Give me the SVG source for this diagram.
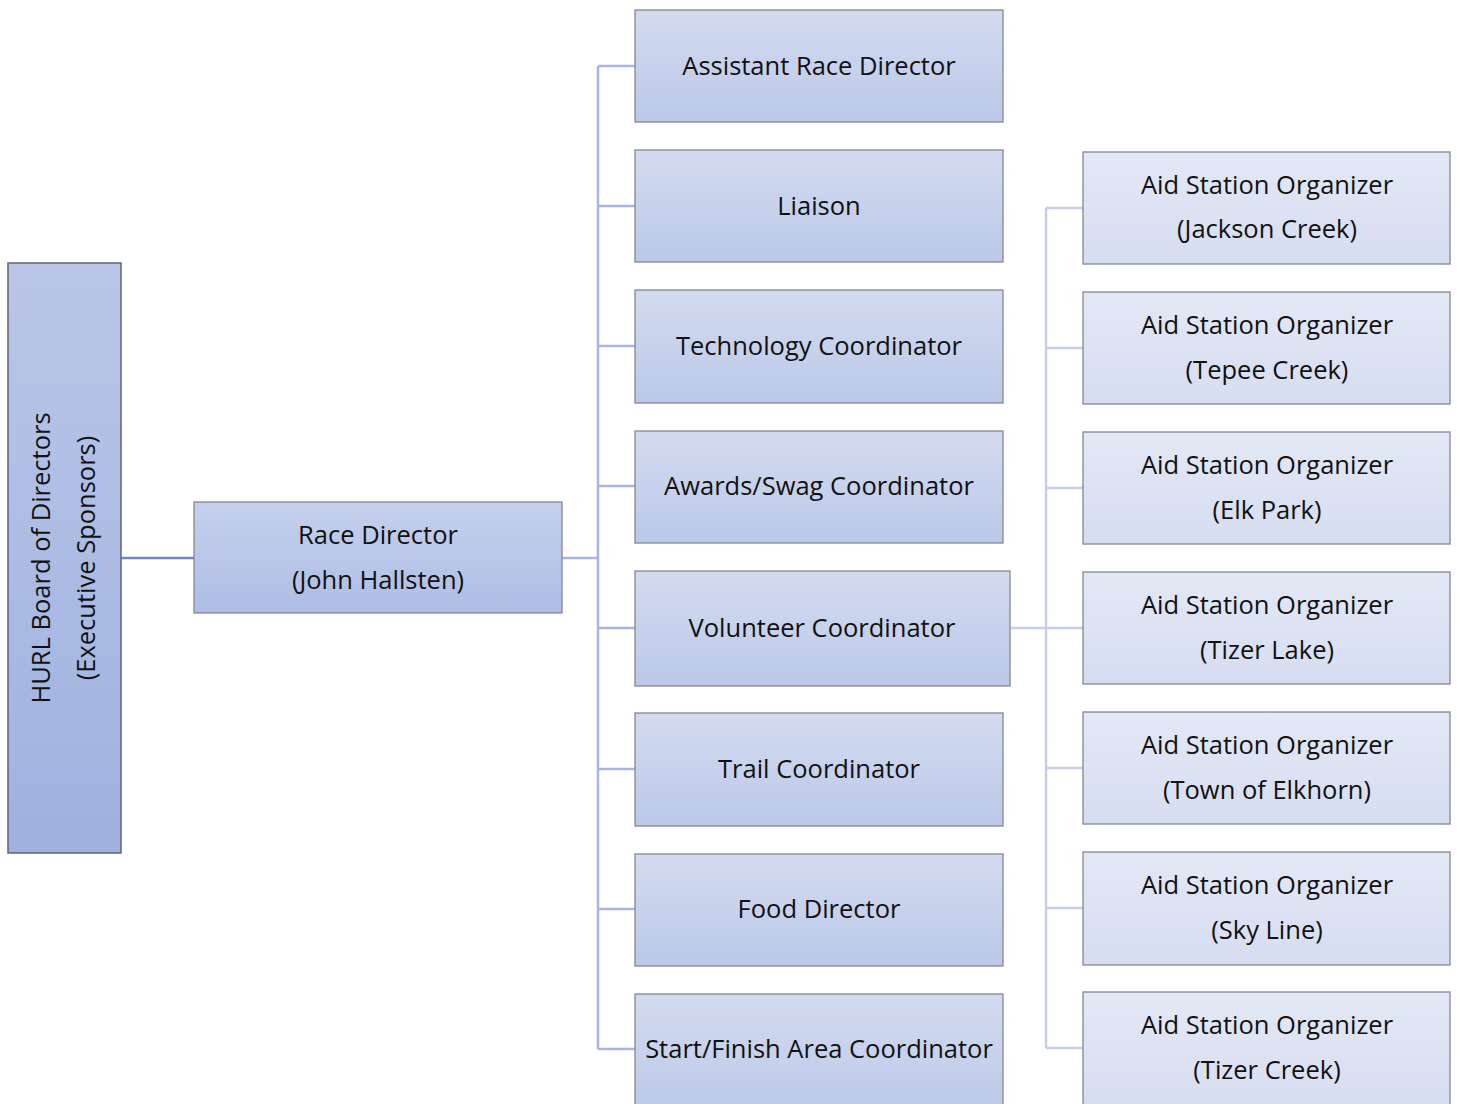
<svg xmlns="http://www.w3.org/2000/svg" width="1457" height="1104" viewBox="0 0 1457 1104">
<defs>
<linearGradient id="gBoard" x1="0" y1="0" x2="0" y2="1"><stop offset="0" stop-color="#b9c6e7"/><stop offset="1" stop-color="#9eb1df"/></linearGradient>
<linearGradient id="gMid" x1="0" y1="0" x2="0" y2="1"><stop offset="0" stop-color="#d3dbef"/><stop offset="1" stop-color="#bcc8e9"/></linearGradient>
<linearGradient id="gRD" x1="0" y1="0" x2="0" y2="1"><stop offset="0" stop-color="#c5d0ec"/><stop offset="1" stop-color="#aebde5"/></linearGradient>
<linearGradient id="gAid" x1="0" y1="0" x2="0" y2="1"><stop offset="0" stop-color="#e3e8f5"/><stop offset="1" stop-color="#d6ddf0"/></linearGradient>
</defs>
<style>
text{font-family:"Open Sans","Liberation Sans",sans-serif;font-size:25.5px;fill:#111;text-anchor:middle}
.box{stroke:#85888f;stroke-width:1.3}
.board{stroke:#5f6575;stroke-width:1.5}
.c1{stroke:#7285c6;stroke-width:2.5;fill:none}
.c2{stroke:#a9b5de;stroke-width:2.5;fill:none}
.c3{stroke:#c6ceeb;stroke-width:2.5;fill:none}
</style>
<g id="connectors">
<path class="c1" d="M121 558H194"/>
<path class="c2" d="M562 558H598M598 66V1049M598 66H635M598 206H635M598 346H635M598 486H635M598 628H635M598 769H635M598 909H635M598 1049H635"/>
<path class="c3" d="M1010 628H1046M1046 208V1048M1046 208H1083M1046 348H1083M1046 488H1083M1046 628H1083M1046 768H1083M1046 908H1083M1046 1048H1083"/>
</g>
<g id="board"><rect class="board" x="8" y="263" width="113" height="590" fill="url(#gBoard)"/>
<g transform="translate(64,558) rotate(-90)"><text x="0" y="-14">HURL Board of Directors</text><text x="0" y="31">(Executive Sponsors)</text></g></g>
<g id="race-director"><rect class="box" x="194" y="502" width="368" height="111" fill="url(#gRD)"/><text x="378" y="544">Race Director</text><text x="378" y="589">(John Hallsten)</text></g>
<g id="assistant"><rect class="box" x="635" y="10" width="368" height="112" fill="url(#gMid)"/><text x="819" y="75">Assistant Race Director</text></g>
<g id="liaison"><rect class="box" x="635" y="150" width="368" height="112" fill="url(#gMid)"/><text x="819" y="215">Liaison</text></g>
<g id="technology"><rect class="box" x="635" y="290" width="368" height="113" fill="url(#gMid)"/><text x="819" y="355">Technology Coordinator</text></g>
<g id="awards"><rect class="box" x="635" y="431" width="368" height="112" fill="url(#gMid)"/><text x="819" y="495">Awards/Swag Coordinator</text></g>
<g id="volunteer"><rect class="box" x="635" y="571" width="375" height="115" fill="url(#gMid)"/><text x="822" y="637">Volunteer Coordinator</text></g>
<g id="trail"><rect class="box" x="635" y="713" width="368" height="113" fill="url(#gMid)"/><text x="819" y="778">Trail Coordinator</text></g>
<g id="food"><rect class="box" x="635" y="854" width="368" height="112" fill="url(#gMid)"/><text x="819" y="918">Food Director</text></g>
<g id="startfinish"><rect class="box" x="635" y="994" width="368" height="120" fill="url(#gMid)"/><text x="819" y="1058">Start/Finish Area Coordinator</text></g>
<g id="aid-jackson"><rect class="box" x="1083" y="152" width="367" height="112" fill="url(#gAid)"/><text x="1267" y="194">Aid Station Organizer</text><text x="1267" y="238">(Jackson Creek)</text></g>
<g id="aid-tepee"><rect class="box" x="1083" y="292" width="367" height="112" fill="url(#gAid)"/><text x="1267" y="334">Aid Station Organizer</text><text x="1267" y="379">(Tepee Creek)</text></g>
<g id="aid-elk"><rect class="box" x="1083" y="432" width="367" height="112" fill="url(#gAid)"/><text x="1267" y="474">Aid Station Organizer</text><text x="1267" y="519">(Elk Park)</text></g>
<g id="aid-tizerlake"><rect class="box" x="1083" y="572" width="367" height="112" fill="url(#gAid)"/><text x="1267" y="614">Aid Station Organizer</text><text x="1267" y="659">(Tizer Lake)</text></g>
<g id="aid-elkhorn"><rect class="box" x="1083" y="712" width="367" height="112" fill="url(#gAid)"/><text x="1267" y="754">Aid Station Organizer</text><text x="1267" y="799">(Town of Elkhorn)</text></g>
<g id="aid-skyline"><rect class="box" x="1083" y="852" width="367" height="113" fill="url(#gAid)"/><text x="1267" y="894">Aid Station Organizer</text><text x="1267" y="939">(Sky Line)</text></g>
<g id="aid-tizercreek"><rect class="box" x="1083" y="992" width="367" height="122" fill="url(#gAid)"/><text x="1267" y="1034">Aid Station Organizer</text><text x="1267" y="1079">(Tizer Creek)</text></g>
</svg>
